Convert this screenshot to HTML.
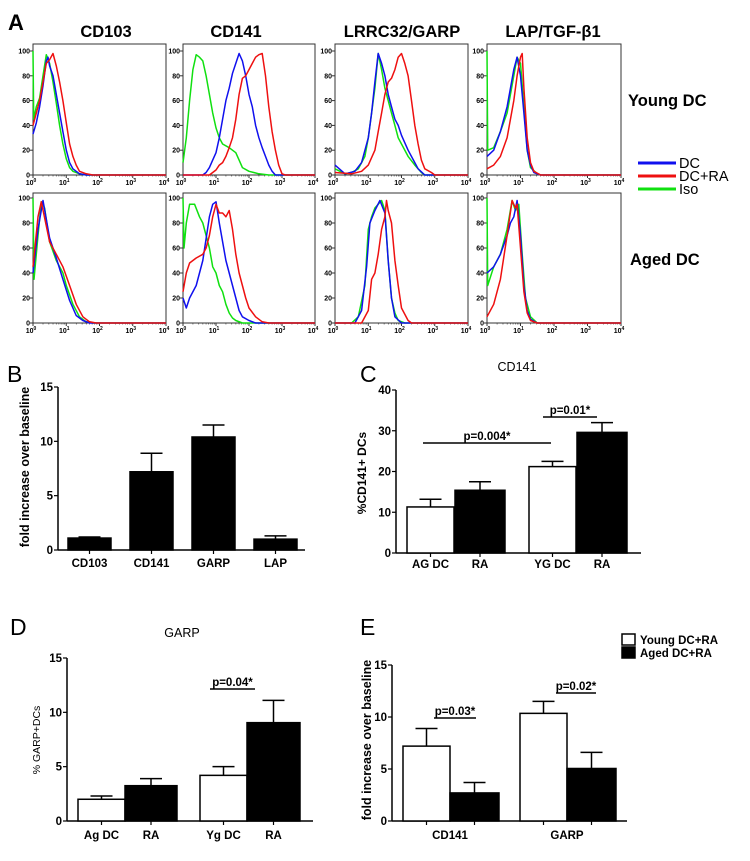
<!DOCTYPE html>
<html><head><meta charset="utf-8"><style>
html,body{margin:0;padding:0;background:#fff}
svg{display:block;font-family:"Liberation Sans",sans-serif}
</style></head><body>
<svg id="fig" width="750" height="861" viewBox="0 0 750 861" xmlns="http://www.w3.org/2000/svg">
<g id="A"></g>
<g id="B"></g>
<g id="C"></g>
<g id="D"></g>
<g id="E"></g>
</svg>
<script>
// ---------- Panel A histogram data: [log10 intensity, % of max] ----------
const yCD103Blue=[[0,33],[0.1,42],[0.2,55],[0.3,72],[0.4,92],[0.45,95],[0.5,88],[0.6,80],[0.7,65],[0.8,50],[0.9,35],[1.0,20],[1.1,10],[1.2,5],[1.4,1],[1.6,0],[4,0]];
const yCD103Red=[[0,40],[0.1,50],[0.2,60],[0.3,75],[0.4,90],[0.5,93],[0.6,98],[0.7,88],[0.8,75],[0.9,60],[1.0,42],[1.1,25],[1.2,15],[1.3,8],[1.4,3],[1.6,1],[1.8,0],[4,0]];
const yCD103Green=[[0,100],[0.02,45],[0.1,55],[0.2,62],[0.3,80],[0.4,97],[0.5,90],[0.6,75],[0.7,58],[0.8,40],[0.9,25],[1.0,13],[1.1,6],[1.2,3],[1.4,1],[1.6,0],[4,0]];
const yCD141Blue=[[0,0],[0.6,0],[0.7,2],[0.8,6],[0.9,12],[1.0,18],[1.1,30],[1.2,45],[1.3,60],[1.4,70],[1.5,82],[1.6,90],[1.7,98],[1.8,92],[1.9,80],[2.0,65],[2.1,55],[2.2,40],[2.3,30],[2.4,22],[2.5,15],[2.6,8],[2.7,3],[2.8,0],[4,0]];
const yCD141Red=[[0,0],[0.8,0],[0.9,2],[1.0,4],[1.1,8],[1.2,10],[1.3,15],[1.4,22],[1.5,30],[1.6,45],[1.7,65],[1.8,78],[1.9,80],[2.0,85],[2.1,90],[2.2,95],[2.3,97],[2.4,98],[2.5,80],[2.6,55],[2.7,35],[2.8,20],[2.9,8],[3.0,1],[3.1,0],[4,0]];
const yCD141Green=[[0,10],[0.1,30],[0.2,60],[0.3,85],[0.4,97],[0.5,95],[0.6,92],[0.7,80],[0.8,65],[0.9,50],[1.0,38],[1.1,30],[1.2,25],[1.4,22],[1.6,18],[1.7,12],[1.8,6],[2.0,3],[2.3,1],[2.6,0],[4,0]];
const yGARPBlue=[[0,8],[0.3,1],[0.6,3],[0.8,10],[1.0,30],[1.1,50],[1.2,75],[1.3,98],[1.4,90],[1.5,80],[1.6,65],[1.7,55],[1.8,45],[1.9,40],[2.0,32],[2.2,20],[2.4,10],[2.5,5],[2.7,0],[4,0]];
const yGARPRed=[[0,2],[0.5,1],[0.8,3],[1.0,8],[1.2,20],[1.3,35],[1.4,50],[1.5,65],[1.6,75],[1.7,78],[1.8,85],[1.9,95],[2.0,98],[2.1,90],[2.2,80],[2.3,60],[2.4,40],[2.5,25],[2.6,12],[2.7,5],[2.9,2],[3.0,0],[4,0]];
const yGARPGreen=[[0,5],[0.3,1],[0.5,2],[0.7,5],[0.9,15],[1.0,30],[1.1,50],[1.2,70],[1.3,98],[1.4,85],[1.5,70],[1.6,60],[1.7,50],[1.8,40],[1.9,30],[2.0,25],[2.2,15],[2.4,8],[2.6,2],[2.7,0],[4,0]];
const yLAPBlue=[[0,15],[0.2,20],[0.4,35],[0.6,55],[0.8,85],[0.9,95],[1.0,80],[1.1,50],[1.2,20],[1.3,8],[1.4,2],[1.6,0],[4,0]];
const yLAPRed=[[0,5],[0.2,8],[0.4,15],[0.6,30],[0.8,60],[0.9,80],[1.0,95],[1.05,98],[1.1,70],[1.2,30],[1.3,10],[1.4,3],[1.6,0],[4,0]];
const yLAPGreen=[[0,100],[0.02,20],[0.2,22],[0.4,35],[0.6,50],[0.8,80],[0.9,95],[1.0,90],[1.1,55],[1.2,20],[1.3,6],[1.5,1],[1.6,0],[4,0]];
const oCD103Blue=[[0,40],[0.15,75],[0.3,98],[0.5,68],[0.7,52],[0.9,35],[1.1,18],[1.3,6],[1.5,2],[1.7,0],[4,0]];
const oCD103Red=[[0,45],[0.15,85],[0.25,97],[0.5,65],[0.7,55],[0.9,45],[1.1,30],[1.3,15],[1.5,5],[1.7,1],[1.9,0],[4,0]];
const oCD103Green=[[0,100],[0.03,35],[0.15,70],[0.25,97],[0.35,92],[0.5,65],[0.7,50],[0.9,40],[1.0,30],[1.2,15],[1.4,5],[1.6,1],[1.8,0],[4,0]];
const oCD141Blue=[[0,20],[0.1,12],[0.2,20],[0.4,30],[0.6,50],[0.8,85],[0.9,95],[1.0,97],[1.1,80],[1.2,65],[1.3,50],[1.4,40],[1.5,30],[1.6,20],[1.7,10],[1.8,5],[2.0,2],[2.2,0],[4,0]];
const oCD141Red=[[0,25],[0.1,40],[0.2,48],[0.4,52],[0.6,55],[0.7,60],[0.8,70],[0.9,85],[1.0,95],[1.1,88],[1.2,88],[1.3,85],[1.4,90],[1.5,75],[1.6,55],[1.7,40],[1.8,30],[1.9,20],[2.0,12],[2.2,5],[2.4,1],[2.6,0],[4,0]];
const oCD141Green=[[0,100],[0.03,60],[0.1,80],[0.2,95],[0.35,95],[0.5,85],[0.6,80],[0.7,70],[0.8,60],[0.9,45],[1.0,40],[1.1,30],[1.2,25],[1.3,15],[1.4,8],[1.5,4],[1.6,2],[1.8,0],[4,0]];
const oGARPBlue=[[0,0],[0.6,0],[0.8,10],[0.95,45],[1.05,80],[1.2,90],[1.35,98],[1.5,88],[1.6,50],[1.7,20],[1.8,5],[2.0,0],[4,0]];
const oGARPRed=[[0,0],[0.8,0],[1.0,10],[1.1,35],[1.2,40],[1.3,55],[1.4,75],[1.5,85],[1.55,98],[1.6,90],[1.7,80],[1.8,50],[1.9,30],[2.0,12],[2.2,2],[2.3,0],[4,0]];
const oGARPGreen=[[0,0],[0.5,0],[0.7,5],[0.9,30],[1.0,75],[1.1,85],[1.2,92],[1.3,95],[1.4,98],[1.5,90],[1.6,50],[1.7,20],[1.8,8],[1.9,2],[2.1,0],[4,0]];
const oLAPBlue=[[0,40],[0.2,45],[0.4,55],[0.6,70],[0.7,80],[0.8,85],[0.9,98],[1.0,70],[1.1,30],[1.2,10],[1.3,3],[1.5,0],[4,0]];
const oLAPRed=[[0,5],[0.2,15],[0.4,35],[0.6,70],[0.75,98],[0.85,92],[0.9,95],[1.0,60],[1.1,25],[1.2,8],[1.3,2],[1.5,0],[4,0]];
const oLAPGreen=[[0,100],[0.02,30],[0.2,45],[0.4,55],[0.6,75],[0.75,98],[0.85,90],[0.95,95],[1.05,55],[1.15,20],[1.3,5],[1.5,0],[4,0]];
const histHeaders=["CD103","CD141","LRRC32/GARP","LAP/TGF-\u03b21"];
const histYTicks=[0,20,40,60,80,100];
const histXTicks=[0,1,2,3,4];

// ---------- Panel B ----------
const bCats=["CD103","CD141","GARP","LAP"];
const bVals=[1.1,7.2,10.4,1.0];
const bErr=[1.2,8.9,11.5,1.3];
const bTicks=[0,5,10,15];
// ---------- Panel C ----------
const cCats=["AG DC","RA","YG DC","RA"];
const cVals=[11.3,15.4,21.2,29.6];
const cErr=[13.2,17.5,22.5,32.0];
const cTicks=[0,10,20,30,40];
// ---------- Panel D ----------
const dCats=["Ag DC","RA","Yg DC","RA"];
const dVals=[2.0,3.25,4.2,9.05];
const dErr=[2.3,3.9,5.0,11.1];
const dTicks=[0,5,10,15];
// ---------- Panel E ----------
const eCats=["CD141","GARP"];
const eYoung=[7.2,10.35];
const eYoungErr=[8.9,11.5];
const eAged=[2.7,5.05];
const eAgedErr=[3.7,6.6];
const eTicks=[0,5,10,15];

const NS="http://www.w3.org/2000/svg";
function mk(parent,tag,attrs,text){
  const e=document.createElementNS(NS,tag);
  for(const k in attrs)e.setAttribute(k,attrs[k]);
  if(text!==undefined)e.textContent=text;
  parent.appendChild(e);return e;
}

// ---------- Panel A ----------
const A=document.getElementById('A');
let t=mk(A,'text',{x:8,y:30,'font-size':22,'font-weight':'bold'},'A');


const colX=[[33,166],[183,315],[335,468],[487,621]];
const rowY=[[44,51,175],[193,198,323]];
const headerX=[106,236,402,553];
histHeaders.forEach((h,i)=>{
  const e=mk(A,'text',{x:headerX[i],y:37,'font-size':16.5,'font-weight':'bold','text-anchor':'middle'},h);
  
  
});
const sets=[
 [[yCD103Blue,yCD103Red,yCD103Green],[yCD141Blue,yCD141Red,yCD141Green],[yGARPBlue,yGARPRed,yGARPGreen],[yLAPBlue,yLAPRed,yLAPGreen]],
 [[oCD103Blue,oCD103Red,oCD103Green],[oCD141Blue,oCD141Red,oCD141Green],[oGARPBlue,oGARPRed,oGARPGreen],[oLAPBlue,oLAPRed,oLAPGreen]]
];
const colors=["#1010ee","#ee1010","#10e010"];
const drawOrder=[2,0,1];
for(let r=0;r<2;r++){
  const [top,y100,y0]=rowY[r];
  for(let c=0;c<4;c++){
    const [x0,x4]=colX[c];
    const g=mk(A,'g',{});
    
    
    mk(g,'rect',{x:x0,y:top,width:x4-x0,height:y0-top,fill:'none',stroke:'#333','stroke-width':1});
    const sx=v=>x0+v/4*(x4-x0), sy=v=>y0-v/100*(y0-y100);
    histYTicks.forEach(v=>{
      mk(g,'line',{x1:x0-3,x2:x0,y1:sy(v),y2:sy(v),stroke:'#333','stroke-width':1});
      const e=mk(g,'text',{x:x0-3,y:sy(v)+2.5,'font-size':7,'font-weight':'bold','text-anchor':'end'},String(v));
      
      
    });
    histXTicks.forEach(v=>{
      mk(g,'line',{x1:sx(v),x2:sx(v),y1:y0,y2:y0+3,stroke:'#333','stroke-width':1});
      if(v<4)for(let m=2;m<10;m++){const xx=sx(v+Math.log10(m));mk(g,'line',{x1:xx,x2:xx,y1:y0,y2:y0+1.5,stroke:'#333','stroke-width':0.6});}
      const e=mk(g,'text',{x:sx(v)-2,y:y0+10,'font-size':7,'font-weight':'bold','text-anchor':'middle'});
      mk(e,'tspan',{},'10');mk(e,'tspan',{dy:-3,'font-size':5},String(v));
      
      
    });
    drawOrder.forEach(k=>{
      const d=sets[r][c][k].map((p,i)=>(i?'L':'M')+sx(p[0]).toFixed(1)+','+sy(p[1]).toFixed(1)).join('');
      const p=mk(g,'path',{d:d,fill:'none',stroke:colors[k],'stroke-width':1.5,'stroke-linejoin':'round'});
      
      
    });
  }
}
t=mk(A,'text',{x:628,y:106,'font-size':16.5,'font-weight':'bold'},'Young DC');


t=mk(A,'text',{x:630,y:265,'font-size':16.5,'font-weight':'bold'},'Aged DC');


["DC","DC+RA","Iso"].forEach((s,i)=>{
  const g=mk(A,'g',{});
  
  
  mk(g,'line',{x1:638,x2:676,y1:163+i*13,y2:163+i*13,stroke:colors[i],'stroke-width':3});
  mk(g,'text',{x:679,y:168+i*13,'font-size':14.5},s);
});

// ---------- bar chart helper ----------
function axisChart(G,o){
  const sy=v=>o.y0-v/o.max*(o.y0-o.yTop);
  mk(G,'line',{x1:o.ax,x2:o.ax,y1:o.yTop,y2:o.y0,stroke:'#000','stroke-width':1.5});
  mk(G,'line',{x1:o.ax,x2:o.xEnd,y1:o.y0,y2:o.y0,stroke:'#000','stroke-width':1.5});
  o.ticks.forEach(v=>{
    mk(G,'line',{x1:o.ax-4,x2:o.ax,y1:sy(v),y2:sy(v),stroke:'#000','stroke-width':1.2});
    const e=mk(G,'text',{x:o.ax-5,y:sy(v)+4,'font-size':11.5,'font-weight':'bold','text-anchor':'end'},String(v));
    
    
  });
  return sy;
}
function bar(G,x,w,v,err,fill,sy,y0,name){
  const g=mk(G,'g',{});
  
  
  const cx=x+w/2;
  mk(g,'line',{x1:cx,x2:cx,y1:sy(v),y2:sy(err),stroke:'#000','stroke-width':1.5});
  mk(g,'line',{x1:cx-11,x2:cx+11,y1:sy(err),y2:sy(err),stroke:'#000','stroke-width':1.5});
  mk(g,'rect',{x:x,y:sy(v),width:w,height:y0-sy(v),fill:fill,stroke:'#000','stroke-width':1.5});
  mk(g,'line',{x1:cx,x2:cx,y1:y0,y2:y0+4,stroke:'#000','stroke-width':1.2});
}
function lbl(G,x,y,s,size,anchor,name,extra){
  const e=mk(G,'text',Object.assign({x:x,y:y,'font-size':size,'font-weight':'bold','text-anchor':anchor||'start'},extra||{}),s);
  
  
  return e;
}
function sig(G,x1,x2,y,s,name){
  const g=mk(G,'g',{});
  
  
  mk(g,'line',{x1:x1,x2:x2,y1:y,y2:y,stroke:'#000','stroke-width':1.5});
  mk(g,'text',{x:(x1+x2)/2,y:y-3,'font-size':11.5,'font-weight':'bold','text-anchor':'middle'},s);
}

// ---------- Panel B ----------
const B=document.getElementById('B');
lbl(B,7,382,'B',23,'start','panel-b-label',{'font-weight':'normal'});
let sy=axisChart(B,{ax:58,xEnd:305,yTop:387,y0:550,max:15,ticks:bTicks});
bCats.forEach((c,i)=>{
  const x=68+i*62;
  bar(B,x,43,bVals[i],bErr[i],'#000',sy,550,'bar-'+c.toLowerCase());
  lbl(B,x+21.5,567,c,11.5,'middle','x-tick-label');
});
lbl(B,0,0,'fold increase over  baseline',12.5,'middle','y-axis-title',{transform:'translate(29,467) rotate(-90)'});

// ---------- Panel C ----------
const C=document.getElementById('C');
lbl(C,360,382,'C',23,'start','panel-c-label',{'font-weight':'normal'});
lbl(C,517,371,'CD141',12.5,'middle','chart-title',{'font-weight':'normal'});
sy=axisChart(C,{ax:396,xEnd:641,yTop:390,y0:553,max:40,ticks:cTicks});
const cX=[407,455,529,577],cW=[47,50,47,50];
cCats.forEach((c,i)=>{
  bar(C,cX[i],cW[i],cVals[i],cErr[i],i%2?'#000':'#fff',sy,553,'bar-'+c.toLowerCase().replace(' ','-')+'-'+i);
  lbl(C,cX[i]+cW[i]/2,568,c,11.5,'middle','x-tick-label');
});
sig(C,423,551,443,'p=0.004*','significance-p0004');
sig(C,543,597,417,'p=0.01*','significance-p001');
lbl(C,0,0,'%CD141+ DCs',12,'middle','y-axis-title',{transform:'translate(366,473) rotate(-90)'});

// ---------- Panel D ----------
const D=document.getElementById('D');
lbl(D,10,635,'D',23,'start','panel-d-label',{'font-weight':'normal'});
lbl(D,182,637,'GARP',12.5,'middle','chart-title',{'font-weight':'normal'});
sy=axisChart(D,{ax:67,xEnd:313,yTop:658,y0:821,max:15,ticks:dTicks});
const dX=[78,125,200,247],dW=[47,52,47,53];
dCats.forEach((c,i)=>{
  bar(D,dX[i],dW[i],dVals[i],dErr[i],i%2?'#000':'#fff',sy,821,'bar-'+c.toLowerCase().replace(' ','-')+'-'+i);
  lbl(D,dX[i]+dW[i]/2,839,c,11.5,'middle','x-tick-label');
});
sig(D,210,255,689,'p=0.04*','significance-p004');
lbl(D,0,0,'% GARP+DCs',10.5,'middle','y-axis-title',{'font-weight':'normal',transform:'translate(40,740) rotate(-90)'});

// ---------- Panel E ----------
const E=document.getElementById('E');
lbl(E,360,635,'E',23,'start','panel-e-label',{'font-weight':'normal'});
sy=axisChart(E,{ax:392,xEnd:627,yTop:665,y0:821,max:15,ticks:eTicks});
eCats.forEach((c,i)=>{
  const x=403+i*117;
  bar(E,x,47,eYoung[i],eYoungErr[i],'#fff',sy,821,'bar-young-'+c.toLowerCase());
  bar(E,x+47,49,eAged[i],eAgedErr[i],'#000',sy,821,'bar-aged-'+c.toLowerCase());
  lbl(E,x+47,839,c,11.5,'middle','x-tick-label');
});
sig(E,434,476,718,'p=0.03*','significance-p003');
sig(E,556,596,693,'p=0.02*','significance-p002');
lbl(E,0,0,'fold increase over  baseline',12.5,'middle','y-axis-title',{transform:'translate(371,740) rotate(-90)'});
[['Young DC+RA','#fff'],['Aged DC+RA','#000']].forEach((L,i)=>{
  const g=mk(E,'g',{});
  
  
  mk(g,'rect',{x:622,y:634+i*13,width:13,height:11,fill:L[1],stroke:'#000','stroke-width':1.5});
  mk(g,'text',{x:640,y:644+i*13,'font-size':11.5,'font-weight':'bold'},L[0]);
});
</script>
</body></html>
